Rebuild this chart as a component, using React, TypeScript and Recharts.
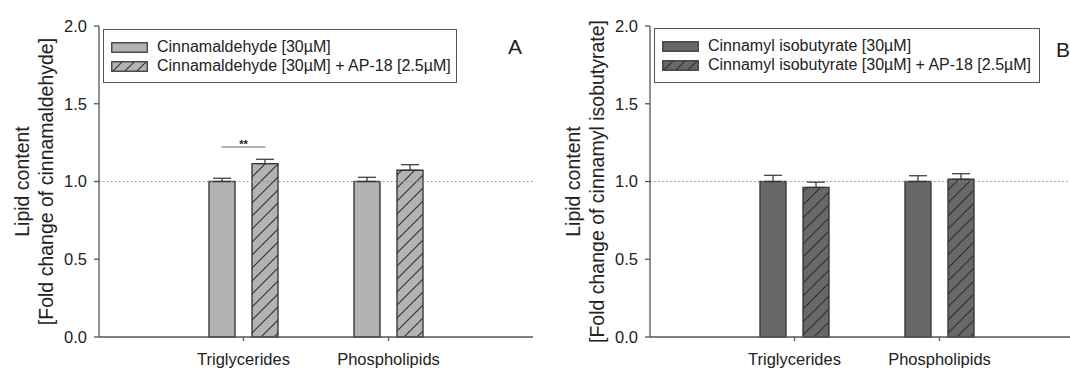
import React from "react";
import {
  BarChart,
  Bar,
  XAxis,
  YAxis,
  ErrorBar,
  ReferenceLine,
  ReferenceDot,
} from "recharts";

const categories = ["Triglycerides", "Phospholipids"];

// panel A
const cinnamaldehyde = [1.0, 1.0];
const cinnamaldehydeSem = [0.021, 0.027];
const cinnamaldehydeAp18 = [1.115, 1.072];
const cinnamaldehydeAp18Sem = [0.028, 0.036];

// panel B
const isobutyrate = [1.0, 1.0];
const isobutyrateSem = [0.04, 0.037];
const isobutyrateAp18 = [0.962, 1.014];
const isobutyrateAp18Sem = [0.034, 0.036];

const yTicks = [0, 0.5, 1, 1.5, 2];

const FONT = "'Liberation Sans', Arial, sans-serif";
const INK = "#222";
const EDGE = "#3a3a3a";

type Row = {
  name: string;
  single: number;
  singleErr: number[];
  combo: number;
  comboErr: number[];
};

const buildRows = (a: number[], ae: number[], b: number[], be: number[]): Row[] =>
  categories.map((name, i) => ({
    name,
    single: a[i],
    singleErr: [0, ae[i]],
    combo: b[i],
    comboErr: [0, be[i]],
  }));

const rowsA = buildRows(cinnamaldehyde, cinnamaldehydeSem, cinnamaldehydeAp18, cinnamaldehydeAp18Sem);
const rowsB = buildRows(isobutyrate, isobutyrateSem, isobutyrateAp18, isobutyrateAp18Sem);

function HatchDefs({ id, fill, size }: { id: string; fill: string; size: number }) {
  const s = size;
  return (
    <defs>
      <pattern id={id} patternUnits="userSpaceOnUse" width={s} height={s}>
        <rect width={s} height={s} fill={fill} />
        <path
          d={`M0,${s} L${s},0 M-3,3 L3,-3 M${s - 3},${s + 3} L${s + 3},${s - 3}`}
          stroke="#2e2e2e"
          strokeWidth={1.1}
        />
      </pattern>
    </defs>
  );
}

function Swatch({ fill, hatch, id }: { fill: string; hatch: boolean; id: string }) {
  return (
    <svg width={37} height={11} style={{ display: "block" }}>
      {hatch && <HatchDefs id={id} fill={fill} size={12} />}
      <rect
        x={0.75}
        y={0.75}
        width={35.5}
        height={9.5}
        fill={hatch ? `url(#${id})` : fill}
        stroke={EDGE}
        strokeWidth={1.3}
      />
    </svg>
  );
}

type PanelProps = {
  id: string;
  left: number;
  width: number;
  rows: Row[];
  fill: string;
  names: string[];
  yLabel: string[];
  letter: string;
  letterPos: { left: number; top: number };
  legendBox: { left: number; top: number; width: number; height: number };
  marginLeft: number;
  marginRight: number;
  sig?: { category: string; y: number; label: string };
};

function Panel(p: PanelProps) {
  const hatchId = `hatch-${p.id}`;
  return (
    <div style={{ position: "absolute", left: p.left, top: 0, width: p.width, height: 368 }}>
      <BarChart
        width={p.width}
        height={368}
        data={p.rows}
        margin={{ top: 26, right: p.marginRight, bottom: 0, left: p.marginLeft }}
        barSize={26}
        barGap={17}
        style={{ fontFamily: FONT }}
      >
        <HatchDefs id={hatchId} fill={p.fill} size={13} />
        <XAxis
          dataKey="name"
          height={31}
          padding={{ left: 72, right: 72 }}
          tickSize={4}
          tickMargin={12}
          tick={{ fontSize: 16.5, fill: INK }}
          stroke="#555"
          strokeWidth={1.3}
        />
        <XAxis
          xAxisId="top"
          dataKey="name"
          orientation="top"
          height={0}
          tick={false}
          tickLine={false}
          stroke="#555"
          strokeWidth={1.3}
        />
        <YAxis
          domain={[0, 2]}
          ticks={yTicks}
          width={50}
          tickSize={5}
          tickMargin={7}
          tickFormatter={(v: number) => v.toFixed(1)}
          tick={{ fontSize: 16.5, fill: INK }}
          stroke="#555"
          strokeWidth={1.3}
          label={{
            content: (lp: any) => {
              const vb = lp.viewBox || { x: p.marginLeft, y: 26, width: 50, height: 311 };
              const ax = vb.x + vb.width;
              const cy = vb.y + vb.height / 2;
              return (
                <g fontFamily={FONT} fontSize={19.5} fill={INK}>
                  {p.yLabel.map((t, i) => {
                    const cx = ax - 77 + i * 24;
                    return (
                      <text
                        key={i}
                        x={cx}
                        y={cy}
                        textAnchor="middle"
                        dominantBaseline="central"
                        transform={`rotate(-90, ${cx}, ${cy})`}
                      >
                        {t}
                      </text>
                    );
                  })}
                </g>
              );
            },
          }}
        />
        <YAxis
          yAxisId="right"
          orientation="right"
          domain={[0, 2]}
          width={0}
          tick={false}
          tickLine={false}
          stroke="#555"
          strokeWidth={1.3}
        />
        <ReferenceLine y={1} stroke="#8c8c8c" strokeDasharray="1.5 2.5" strokeWidth={1} />
        <Bar dataKey="single" name={p.names[0]} fill={p.fill} stroke={EDGE} strokeWidth={1.4} isAnimationActive={false}>
          <ErrorBar dataKey="singleErr" width={9} stroke="#333" strokeWidth={1.2} isAnimationActive={false} />
        </Bar>
        <Bar dataKey="combo" name={p.names[1]} fill={`url(#${hatchId})`} stroke={EDGE} strokeWidth={1.4} isAnimationActive={false}>
          <ErrorBar dataKey="comboErr" width={9} stroke="#333" strokeWidth={1.2} isAnimationActive={false} />
        </Bar>
        {p.sig && (
          <ReferenceDot
            x={p.sig.category}
            y={p.sig.y}
            shape={(dp: any) => (
              <g>
                <line x1={dp.cx - 22} x2={dp.cx + 22} y1={dp.cy} y2={dp.cy} stroke="#666" strokeWidth={1.2} />
                <text x={dp.cx} y={dp.cy + 1} textAnchor="middle" fontSize={11} fontWeight="bold" fill={INK} fontFamily={FONT}>
                  {p.sig!.label}
                </text>
              </g>
            )}
          />
        )}
      </BarChart>

      {/* legend */}
      <div
        style={{
          position: "absolute",
          left: p.legendBox.left,
          top: p.legendBox.top,
          width: p.legendBox.width,
          height: p.legendBox.height,
          boxSizing: "border-box",
          border: "1.5px solid #555",
          background: "#fff",
          fontFamily: FONT,
          fontSize: 16,
          color: INK,
        }}
      >
        {p.names.map((n, i) => (
          <div
            key={n}
            style={{
              position: "absolute",
              left: 7,
              top: 9 + i * 19,
              height: 16,
              display: "flex",
              alignItems: "center",
              whiteSpace: "nowrap",
              lineHeight: "16px",
            }}
          >
            <Swatch fill={p.fill} hatch={i === 1} id={`sw-${p.id}-${i}`} />
            <span style={{ marginLeft: 9 }}>{n}</span>
          </div>
        ))}
      </div>

      <div
        style={{
          position: "absolute",
          left: p.letterPos.left,
          top: p.letterPos.top,
          fontFamily: FONT,
          fontSize: 21,
          lineHeight: 1,
          color: INK,
        }}
      >
        {p.letter}
      </div>
    </div>
  );
}

export default function App() {
  return (
    <div
      style={{
        position: "absolute",
        left: 0,
        top: 0,
        width: 1070,
        height: 368,
        overflow: "hidden",
        background: "#fff",
      }}
    >
      <Panel
        id="a"
        left={0}
        width={540}
        rows={rowsA}
        fill="#b3b3b3"
        names={["Cinnamaldehyde [30µM]", "Cinnamaldehyde [30µM] + AP-18 [2.5µM]"]}
        yLabel={["Lipid content", "[Fold change of cinnamaldehyde]"]}
        letter="A"
        letterPos={{ left: 508, top: 36 }}
        legendBox={{ left: 103, top: 29, width: 354, height: 54 }}
        marginLeft={49}
        marginRight={7}
        sig={{ category: "Triglycerides", y: 1.222, label: "**" }}
      />
      <Panel
        id="b"
        left={540}
        width={560}
        rows={rowsB}
        fill="#686868"
        names={["Cinnamyl isobutyrate [30µM]", "Cinnamyl isobutyrate [30µM] + AP-18 [2.5µM]"]}
        yLabel={["Lipid content", "[Fold change of cinnamyl isobutyrate]"]}
        letter="B"
        letterPos={{ left: 516, top: 39 }}
        legendBox={{ left: 114, top: 28, width: 386, height: 55 }}
        marginLeft={60}
        marginRight={16}
      />
    </div>
  );
}
